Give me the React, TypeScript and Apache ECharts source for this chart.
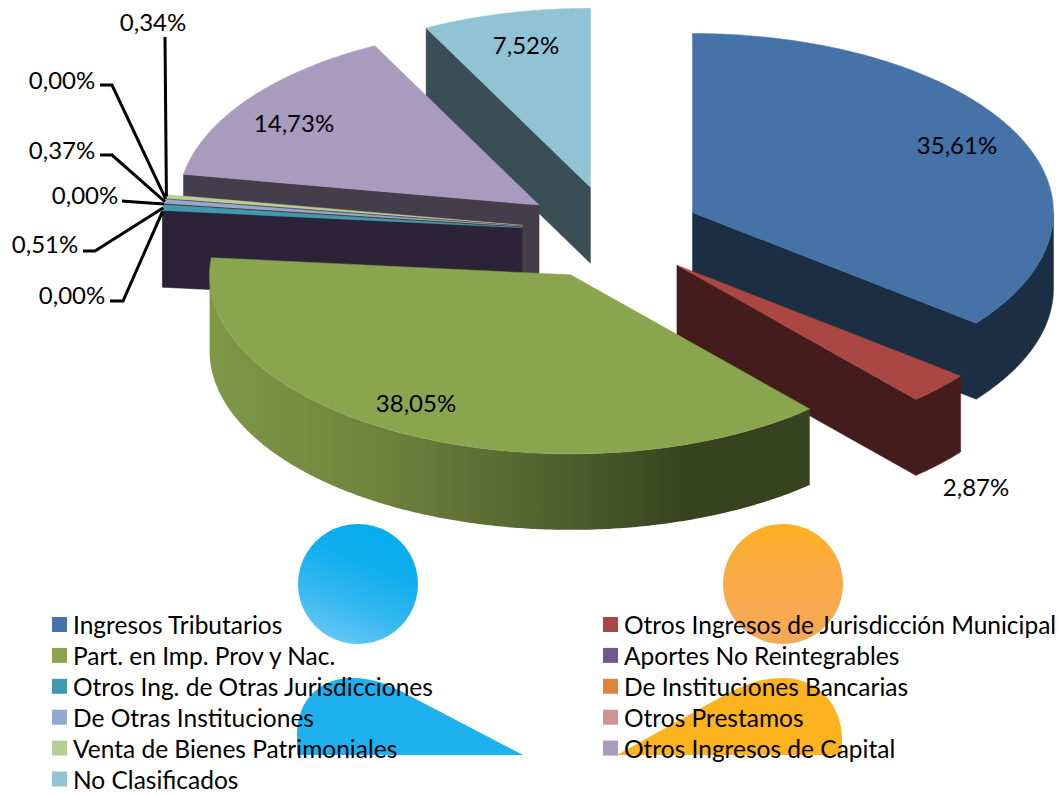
import React, { useEffect, useRef } from "react";
import * as echarts from "echarts";

const CATEGORIES = [
  "Ingresos Tributarios",
  "Otros Ingresos de Jurisdicción Municipal",
  "Part. en Imp. Prov y Nac.",
  "Aportes No Reintegrables",
  "Otros Ing. de Otras Jurisdicciones",
  "De Instituciones Bancarias",
  "De Otras Instituciones",
  "Otros Prestamos",
  "Venta de Bienes Patrimoniales",
  "Otros Ingresos de Capital",
  "No Clasificados",
];
const VALUES = [35.61, 2.87, 38.05, 0.0, 0.51, 0.0, 0.37, 0.0, 0.34, 14.73, 7.52];
const COLORS = ["#4572A7", "#AA4643", "#89A54E", "#71588F", "#4198AF", "#DB843D", "#93A9CF", "#D19392", "#B9CD96", "#A99BBD", "#91C3D5"];

// Layout of the tilted, exploded pie.
const CX = 611.5, CY = 233, RX = 361, RY = 179, DEPTH = 76, EXPLODE_X = 90, EXPLODE_Y = 47;
const FONT = "Lato";
const LABEL_SIZE = 24;
const LEGEND_SIZE = 24.5;
const PAINT_ORDER = [10, 9, 8, 7, 6, 5, 4, 3, 0, 1, 2];
const LABEL_POS: [number, number][] = [
  [957, 144], [976, 486], [416, 402], [72, 294], [45, 243], [85, 194], [62, 149], [62, 79], [153, 21], [294, 122], [526, 44],
];
const LEADERS: Record<number, [number, number][]> = {
  3: [[110, 301], [123, 301]],
  4: [[83, 251], [95, 251]],
  5: [[122, 201], [135, 202]],
  6: [[100, 155], [112, 155]],
  7: [[100, 85], [112, 85]],
  8: [[165, 37]],
};

const TOTAL = VALUES.reduce((a, b) => a + b, 0);
const toDeg = (v: number) => (v / TOTAL) * 360;
const startDeg = (i: number) => toDeg(VALUES.slice(0, i).reduce((a, b) => a + b, 0));

function geom(i: number, value: number) {
  const a0 = startDeg(i);
  const a1 = a0 + toDeg(value);
  const mid = ((a0 + a1) / 2) * (Math.PI / 180);
  const ox = CX + EXPLODE_X * Math.sin(mid);
  const oy = CY - EXPLODE_Y * Math.cos(mid);
  const at = (deg: number, dy = 0): [number, number] => {
    const r = (deg * Math.PI) / 180;
    return [ox + RX * Math.sin(r), oy - RY * Math.cos(r) + dy];
  };
  return { a0, a1, ox, oy, at, mid };
}

function arcPoints(at: (d: number, dy?: number) => [number, number], a0: number, a1: number, dy = 0) {
  const n = Math.max(1, Math.ceil((a1 - a0) * 2));
  const pts: [number, number][] = [];
  for (let k = 0; k <= n; k++) pts.push(at(a0 + ((a1 - a0) * k) / n, dy));
  return pts;
}

function darken(hex: string, f: number) {
  const n = parseInt(hex.slice(1), 16);
  const c = [(n >> 16) & 255, (n >> 8) & 255, n & 255].map((x) => Math.round(x * f));
  return `rgb(${c[0]},${c[1]},${c[2]})`;
}

const poly = (points: [number, number][], fill: any, seam = true) => ({
  type: "polygon",
  shape: { points },
  style: seam ? { fill, stroke: fill, lineWidth: 0.5 } : { fill },
  silent: true,
});

function sliceRenderer(i: number) {
  return (_params: any, api: any) => {
    const value = api.value(0) as number;
    const { a0, a1, ox, oy, at } = geom(i, value);
    const side = darken(COLORS[i], 0.4);
    const children: any[] = [];
    const p0 = at(a0);
    const o: [number, number] = [ox, oy];
    const oDown: [number, number] = [ox, oy + DEPTH];
    const down = (p: [number, number]): [number, number] => [p[0], p[1] + DEPTH];
    // Cut face that looks towards the viewer at the start of the slice.
    if (a0 > 180 && a0 < 360) children.push(poly([o, p0, down(p0), oDown], side));
    const s0 = Math.max(a0, 90), s1 = Math.min(a1, 270);
    const endFacing = a1 > 0 && a1 < 180 && a1 > a0;
    if (s1 > s0) {
      const topArc = arcPoints(at, s0, s1);
      const bottomArc = arcPoints(at, s0, s1, DEPTH);
      if (i === 2) {
        const fill = new echarts.graphic.LinearGradient(0, 0, 1, 0, [
          { offset: 0, color: "#7F9848" },
          { offset: 0.27, color: "#6F843E" },
          { offset: 0.5, color: "#586A32" },
          { offset: 0.66, color: "#475628" },
          { offset: 0.8, color: "#37421F" },
          { offset: 1, color: "#37421F" },
        ]);
        children.push(poly([...topArc, ...bottomArc.reverse()], fill, false));
      } else if (endFacing) {
        // End face and outer wall as one outline, so no seam shows between them.
        children.push(poly([o, ...topArc.reverse(), ...bottomArc, oDown], side));
      } else {
        children.push(poly([...topArc, ...bottomArc.reverse()], side));
      }
    } else if (endFacing) {
      const p1 = at(a1);
      children.push(poly([o, p1, down(p1), oDown], side));
    }
    if (a1 > a0) children.push(poly([o, ...arcPoints(at, a0, a1)], COLORS[i]));
    return { type: "group", children };
  };
}

function labelRenderer(params: any, api: any) {
  const i = params.dataIndex as number;
  const value = api.value(0) as number;
  const children: any[] = [];
  const [x, y] = LABEL_POS[i];
  children.push({
    type: "text",
    x,
    y,
    silent: true,
    style: {
      text: value.toFixed(2).replace(".", ",") + "%",
      fontFamily: FONT,
      fontSize: LABEL_SIZE,
      fill: "#000",
      align: "center",
      verticalAlign: "middle",
    },
  });
  const leader = LEADERS[i];
  if (leader) {
    const g = geom(i, value);
    const end = g.at((g.a0 + g.a1) / 2);
    children.push({
      type: "polyline",
      silent: true,
      shape: { points: [...leader, end] },
      style: { stroke: "#000", lineWidth: 3, fill: "none" },
    });
  }
  return { type: "group", children };
}

const PERSON_BLUE = "M297 755 L297 735 C297 700 320 678 352 678 C375 678 392 686 410 696 L523 755 Z";
const PERSON_ORANGE = "M617 755 L730 692 C750 682 765 678 783 678 C818 678 842 705 842 740 L842 755 Z";
echarts.graphic.registerShape("blobBlue", (echarts.graphic as any).extendPath(PERSON_BLUE, {}));
echarts.graphic.registerShape("blobOrange", (echarts.graphic as any).extendPath(PERSON_ORANGE, {}));

const legend = (left: number, idx: number[]) => ({
  left,
  top: 612,
  height: 200,
  orient: "vertical",
  icon: "rect",
  itemWidth: 15,
  itemHeight: 15,
  itemGap: 5.9,
  selectedMode: false,
  z: 30,
  padding: 0,
  data: idx.map((k) => CATEGORIES[k]),
  textStyle: { fontFamily: FONT, fontSize: LEGEND_SIZE, lineHeight: 24, color: "#000", padding: [0, 0, 0, 1] },
});

export default function App() {
  const ref = useRef<HTMLDivElement>(null);
  useEffect(() => {
    const chart = echarts.init(ref.current!, undefined, { renderer: "svg" });
    chart.setOption({
      animation: false,
      backgroundColor: "#fff",
      legend: [legend(52, [0, 2, 4, 6, 8, 10]), legend(603, [1, 3, 5, 7, 9])],
      graphic: [
        {
          type: "circle",
          z: 0,
          silent: true,
          shape: { cx: 358, cy: 584, r: 60 },
          style: {
            fill: new echarts.graphic.LinearGradient(0.7, 0.05, 0.3, 1, [
              { offset: 0, color: "#04ADEE" },
              { offset: 0.3, color: "#10AEEE" },
              { offset: 0.65, color: "#34B8F0" },
              { offset: 1, color: "#66C8F5" },
            ]),
          },
        },
        {
          type: "circle",
          z: 0,
          silent: true,
          shape: { cx: 783, cy: 584, r: 60 },
          style: {
            fill: new echarts.graphic.LinearGradient(0, 0, 0, 1, [
              { offset: 0, color: "#FDB120" },
              { offset: 0.35, color: "#F8AB42" },
              { offset: 1, color: "#F5A858" },
            ]),
          },
        },
        { type: "blobBlue", z: 0, silent: true, x: 0, y: 0, style: { fill: "#1EB1EE" } },
        { type: "blobOrange", z: 0, silent: true, x: 0, y: 0, style: { fill: "#FCB31E" } },
      ],
      series: [
        ...CATEGORIES.map((name, i) => ({
          type: "custom",
          name,
          coordinateSystem: "none",
          z: 5 + PAINT_ORDER.indexOf(i),
          itemStyle: { color: COLORS[i] },
          data: [[VALUES[i]]],
          renderItem: sliceRenderer(i),
        })),
        {
          type: "custom",
          name: "labels",
          coordinateSystem: "none",
          z: 25,
          data: VALUES.map((v) => [v]),
          renderItem: labelRenderer,
        },
      ],
    });
    return () => chart.dispose();
  }, []);
  return <div ref={ref} style={{ position: "fixed", left: 0, top: 0, width: 1060, height: 794 }} />;
}
